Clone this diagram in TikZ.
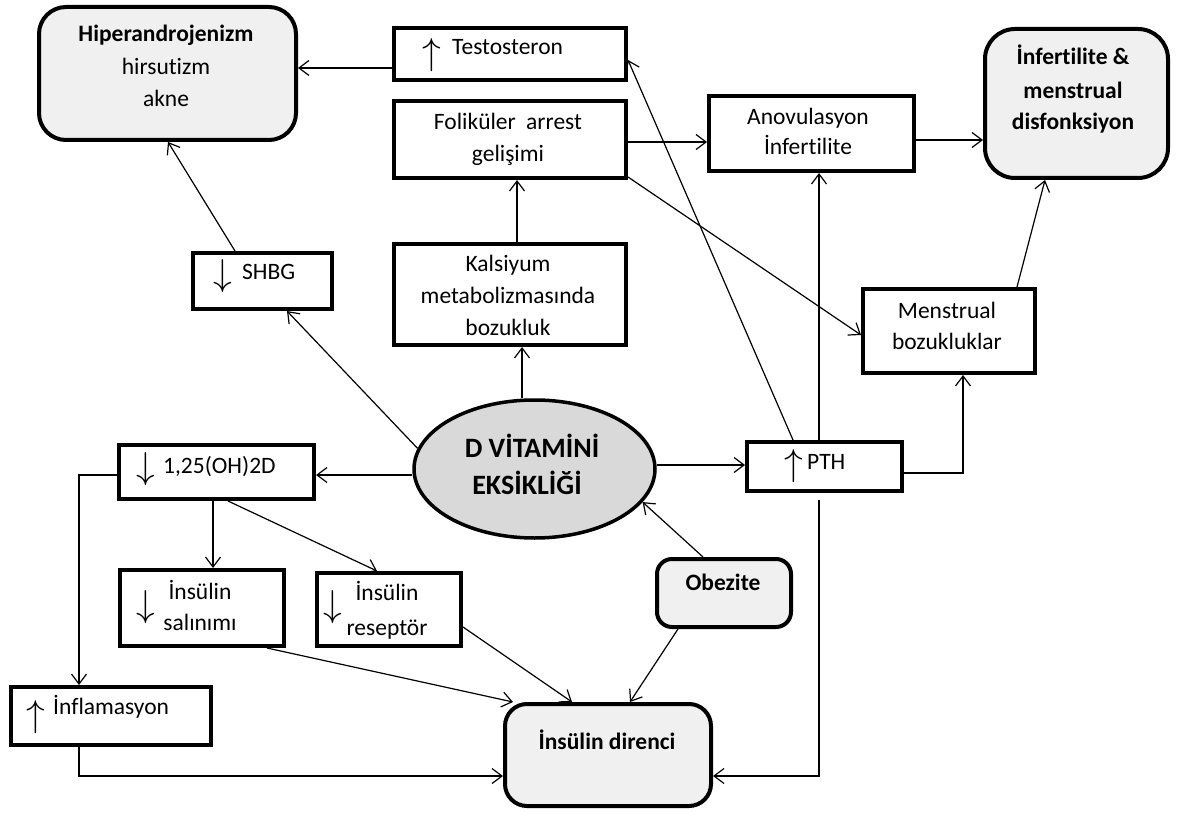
\documentclass[tikz,border=0pt]{standalone}
\usepackage{graphicx}
\usepackage{fontspec}
\setmainfont{Carlito}[Ligatures={NoCommon}]
\usetikzlibrary{arrows.meta,shapes.geometric}
\newcommand{\upg}{\resizebox{!}{26pt}{$\uparrow$}}
\newcommand{\downg}{\resizebox{!}{26pt}{$\downarrow$}}
\begin{document}
\begin{tikzpicture}[x=1pt,y=-1pt,
  box/.style={draw, line width=4pt, inner sep=0pt},
  rbox/.style={draw, line width=4pt, inner sep=0pt, fill=black!6, rounded corners=#1},
  txt/.style={inner sep=0pt, text height=14pt, text depth=0pt, font=\fontsize{23.5}{27}\selectfont},
  btxt/.style={txt, font=\fontsize{23.5}{27}\selectfont\bfseries},
  bigtxt/.style={inner sep=0pt, text height=18pt, text depth=0pt, font=\fontsize{28}{32}\selectfont\bfseries},
  glyph/.style={inner sep=0pt},
  arr/.style={line width=1.2pt, -{Straight Barb[length=10pt,width=15pt]}}]
\useasboundingbox (0,0) rectangle (1178,818);

% boxes
\node[rbox=27pt, minimum width=257pt, minimum height=133pt] (hiper) at (167.5,73.5) {};
\node[box, minimum width=232pt, minimum height=52pt] (testo) at (510,54) {};
\node[box, minimum width=232pt, minimum height=77pt] (fol) at (510,139.5) {};
\node[box, minimum width=205pt, minimum height=75pt] (ano) at (811.5,133.5) {};
\node[rbox=30pt, minimum width=183pt, minimum height=149pt] (inf) at (1076.5,103.5) {};
\node[box, minimum width=139pt, minimum height=56pt] (shbg) at (262.5,281) {};
\node[box, minimum width=232pt, minimum height=101pt] (kal) at (510,294.5) {};
\node[box, minimum width=172pt, minimum height=84pt] (men) at (949,331) {};
\node[draw, ellipse, line width=3.5pt, fill=black!15, inner sep=0pt, minimum width=241pt, minimum height=138pt] (dv) at (534.5,469) {};
\node[box, minimum width=195pt, minimum height=54pt] (oh) at (216.5,472) {};
\node[box, minimum width=155pt, minimum height=49pt] (pth) at (824.5,466.5) {};
\node[box, minimum width=164pt, minimum height=76pt] (sal) at (202,608) {};
\node[box, minimum width=144pt, minimum height=73pt] (res) at (389,609.5) {};
\node[rbox=15pt, minimum width=134pt, minimum height=68pt] (obz) at (724,593) {};
\node[box, minimum width=200pt, minimum height=58pt] (infl) at (111,716) {};
\node[rbox=22pt, minimum width=206pt, minimum height=102pt] (dir) at (608,755) {};

% texts
\node[btxt] (t1) at (166,35) {Hiperandrojenizm};
\node[txt] (t2) at (166,68) {hirsutizm};
\node[txt] (t3) at (166,100) {akne};
\node[glyph] (g1) at (432,55.5) {\upg};
\node[txt, anchor=west] (t4) at (452,48) {Testosteron};
\node[txt] (t5) at (508,123) {Foliküler\hspace{5pt} arrest};
\node[txt] (t6) at (508,155) {gelişimi};
\node[txt] (t7) at (808,118) {Anovulasyon};
\node[txt] (t8) at (808,148) {İnfertilite};
\node[btxt] (t9) at (1073,58) {İnfertilite \&};
\node[btxt] (t10) at (1073,92) {menstrual};
\node[btxt] (t11) at (1073,123) {disfonksiyon};
\node[glyph] (g2) at (223,276) {\downg};
\node[txt, anchor=west] (t12) at (242,273) {SHBG};
\node[txt] (t13) at (508,265) {Kalsiyum};
\node[txt] (t14) at (508,297) {metabolizmasında};
\node[txt] (t15) at (508,328) {bozukluk};
\node[txt] (t16) at (947,312) {Menstrual};
\node[txt] (t17) at (947,342) {bozukluklar};
\node[bigtxt] (t18) at (532,448) {D VİTAMİNİ};
\node[bigtxt] (t19) at (527,485) {EKSİKLİĞİ};
\node[glyph] (g3) at (146,469) {\downg};
\node[txt, anchor=west] (t20) at (163,466) {1,25(OH)2D};
\node[glyph] (g4) at (794,466.5) {\upg};
\node[txt, anchor=west] (t21) at (807,462) {PTH};
\node[glyph] (g5) at (146,607) {\downg};
\node[txt] (t22) at (200,592) {İnsülin};
\node[txt] (t23) at (200,623) {salınımı};
\node[glyph] (g6) at (333,607) {\downg};
\node[txt] (t24) at (387,593) {İnsülin};
\node[txt] (t25) at (387,628) {reseptör};
\node[btxt] (t26) at (723,583) {Obezite};
\node[glyph] (g7) at (36,717.5) {\upg};
\node[txt, anchor=west] (t27) at (53,707) {İnflamasyon};
\node[btxt] (t28) at (607,742) {İnsülin direnci};

% connectors
\draw[arr] (testo.west |- 0,68) -- (hiper.east |- 0,68);
\draw[arr] (shbg.north -| 235,0) -- (hiper.south -| 168,0);
\draw[arr] (dv.170) -- (shbg.south -| 287,0);
\draw[arr] (dv.north -| 522,0) -- (kal.south -| 522,0);
\draw[arr] (kal.north -| 517,0) -- (fol.south -| 517,0);
\draw[arr] (fol.east |- 0,142) -- (ano.west |- 0,142);
\draw[arr] (fol.east |- 0,177) -- (men.west |- 0,335);
\draw[arr] (pth.north -| 793,0) -- (testo.east |- 0,60);
\draw[arr] (pth.north -| 819,0) -- (ano.south -| 819,0);
\draw[arr] (pth.east |- 0,473) -| (men.south -| 963,0);
\draw[arr] (men.north -| 1017,0) -- (inf.south -| 1045,0);
\draw[arr] (ano.east |- 0,140) -- (inf.west |- 0,140);
\draw[arr] (dv.east |- 0,465) -- (pth.west |- 0,465);
\draw[arr] (dv.west |- 0,475) -- (oh.east |- 0,475);
\draw[arr] (oh.south -| 213,0) -- (sal.north -| 213,0);
\draw[arr] (oh.south -| 228,0) -- (res.north -| 377,0);
\draw[arr] (oh.west |- 0,475) -| (infl.north -| 79,0);
\draw[arr] (infl.south -| 79,0) |- (dir.west |- 0,776);
\draw[arr] (sal.south -| 267,0) -- (dir.north -| 513,0);
\draw[arr] (res.east |- 0,627) -- (dir.north -| 572,0);
\draw[arr] (obz.south -| 678,0) -- (dir.north -| 630,0);
\draw[arr] (obz.north -| 703,0) -- (dv.343);
\draw[arr, shorten <=7pt] (pth.south -| 819,0) |- (dir.east |- 0,776);
\end{tikzpicture}
\end{document}
